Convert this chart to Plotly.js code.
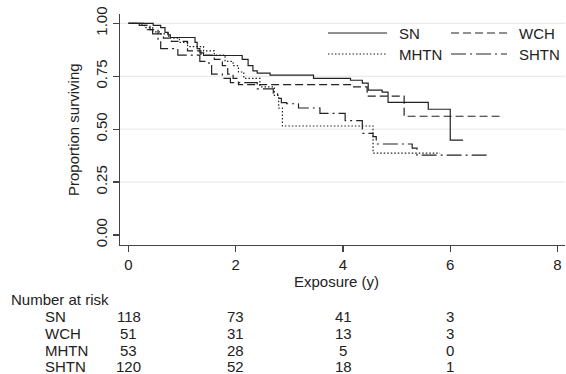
<!DOCTYPE html>
<html>
<head>
<meta charset="utf-8">
<script src="https://cdn.plot.ly/plotly-3.0.1.min.js"></script>
<style>html,body{margin:0;padding:0;background:#fff}#chart{width:566px;height:374px}</style>
</head>
<body>
<div id="chart"></div>
<script>
// Kaplan-Meier step data (time in years, survival proportion after the step)
var snTime  = [0, 0.46, 0.60, 0.68, 0.74, 0.78, 1.24, 1.28, 1.33, 1.40, 1.46, 2.12, 2.23, 2.32, 2.40, 2.64, 3.45, 4.14, 4.36, 4.47, 4.73, 4.84, 5.59, 6.00, 6.24];
var snSurv  = [1, 0.99, 0.98, 0.957, 0.945, 0.933, 0.91, 0.88, 0.86, 0.848, 0.848, 0.83, 0.80, 0.775, 0.765, 0.755, 0.74, 0.731, 0.717, 0.684, 0.675, 0.627, 0.594, 0.448, 0.448];

var wchTime = [0, 0.25, 0.40, 0.55, 0.65, 0.80, 1.10, 1.35, 1.60, 1.75, 1.85, 1.95, 2.05, 4.14, 4.45, 5.14, 6.97];
var wchSurv = [1, 0.99, 0.97, 0.95, 0.93, 0.915, 0.87, 0.85, 0.83, 0.80, 0.76, 0.74, 0.71, 0.70, 0.656, 0.561, 0.561];

var mhtnTime = [0, 0.30, 0.45, 0.60, 0.75, 0.95, 1.10, 1.40, 1.60, 1.80, 1.95, 2.05, 2.15, 2.45, 2.72, 2.80, 2.87, 4.56, 5.81];
var mhtnSurv = [1, 0.98, 0.96, 0.95, 0.93, 0.91, 0.89, 0.87, 0.85, 0.82, 0.80, 0.77, 0.74, 0.70, 0.66, 0.60, 0.515, 0.387, 0.387];

var shtnTime = [0, 0.20, 0.35, 0.45, 0.55, 0.60, 0.92, 1.33, 1.50, 1.55, 1.75, 1.90, 2.40, 2.70, 2.78, 2.85, 2.95, 3.17, 3.57, 4.04, 4.36, 4.56, 4.62, 5.29, 5.38, 6.74];
var shtnSurv = [1, 0.99, 0.97, 0.95, 0.92, 0.88, 0.85, 0.82, 0.80, 0.76, 0.74, 0.72, 0.69, 0.67, 0.645, 0.625, 0.62, 0.60, 0.575, 0.54, 0.48, 0.465, 0.43, 0.41, 0.377, 0.377];

var groupNames = ['SN', 'WCH', 'MHTN', 'SHTN'];
var xTicks = [0, 2, 4, 6, 8];
var yTicks = [0, 0.25, 0.5, 0.75, 1];
var yTickText = ['0.00', '0.25', '0.50', '0.75', '1.00'];
var gridVals = [0.25, 0.5, 0.75, 1];

var riskTimes = [0, 2, 4, 6];
var riskSN   = [118, 73, 41, 3];
var riskWCH  = [51, 31, 13, 3];
var riskMHTN = [53, 28, 5, 0];
var riskSHTN = [120, 52, 18, 1];

var FONT = 'Liberation Sans, Arial, sans-serif';
var INK = '#222';
var dashes = ['solid', '8px,4px', '1.5px,2px', '15px,4px,2px,4px'];

var series = [
  {t: snTime, s: snSurv},
  {t: wchTime, s: wchSurv},
  {t: mhtnTime, s: mhtnSurv},
  {t: shtnTime, s: shtnSurv}
];

var traces = series.map(function (d, i) {
  return {
    x: d.t, y: d.s, name: groupNames[i], type: 'scatter', mode: 'lines',
    line: {shape: 'hv', color: INK, width: 1.2, dash: dashes[i]},
    hoverinfo: 'skip', showlegend: false
  };
});

// plot area pixel geometry
var L = 120, T = 14, W = 445, H = 231;
function py2paper(py) { return (T + H - py) / H; }
function px2paper(px) { return (px - L) / W; }

var shapes = gridVals.map(function (v) {
  return {type: 'line', xref: 'paper', yref: 'y', x0: 0, x1: 1, y0: v, y1: v,
          line: {color: '#e6e6e6', width: 1}, layer: 'below'};
});

var annotations = [];

// legend (2 x 2 grid)
var legCols = [[328, 387, 397], [451, 507, 517]];
var legRows = [33, 54];
groupNames.forEach(function (name, i) {
  var c = legCols[i % 2], r = legRows[Math.floor(i / 2)];
  shapes.push({type: 'line', xref: 'paper', yref: 'paper',
    x0: px2paper(c[0]), x1: px2paper(c[1]), y0: py2paper(r), y1: py2paper(r),
    line: {color: INK, width: 1.2, dash: dashes[i]}});
  annotations.push({xref: 'paper', yref: 'paper', x: px2paper(c[2]), y: py2paper(r),
    text: name, showarrow: false, xanchor: 'left', yanchor: 'middle',
    font: {family: FONT, size: 15, color: INK}});
});

annotations.push({xref: 'paper', yref: 'paper', x: px2paper(336), y: py2paper(281),
  text: 'Exposure (y)', showarrow: false, xanchor: 'center', yanchor: 'middle',
  font: {family: FONT, size: 15, color: INK}});
annotations.push({xref: 'paper', yref: 'paper', x: px2paper(73), y: py2paper(130),
  text: 'Proportion surviving', showarrow: false, textangle: -90, xanchor: 'center', yanchor: 'middle',
  font: {family: FONT, size: 15, color: INK}});
annotations.push({xref: 'paper', yref: 'paper', x: px2paper(9), y: py2paper(299),
  text: 'Number at risk', showarrow: false, xanchor: 'left', yanchor: 'middle',
  font: {family: FONT, size: 15, color: INK}});

var riskRows = [riskSN, riskWCH, riskMHTN, riskSHTN];
var rowPy = [316.5, 333.3, 350, 366.7];
riskRows.forEach(function (row, r) {
  annotations.push({xref: 'paper', yref: 'paper', x: px2paper(43), y: py2paper(rowPy[r]),
    text: groupNames[r], showarrow: false, xanchor: 'left', yanchor: 'middle',
    font: {family: FONT, size: 15, color: INK}});
  row.forEach(function (n, k) {
    annotations.push({xref: 'x', yref: 'paper', x: riskTimes[k], y: py2paper(rowPy[r]),
      text: String(n), showarrow: false, xanchor: 'center', yanchor: 'middle',
      font: {family: FONT, size: 15, color: INK}});
  });
});

var layout = {
  width: 566, height: 374,
  margin: {l: L, r: 566 - L - W, t: T, b: 374 - T - H, pad: 0},
  paper_bgcolor: '#fff', plot_bgcolor: '#fff',
  font: {family: FONT, size: 15, color: INK},
  showlegend: false,
  xaxis: {
    range: [-0.159, 8.14], tickvals: xTicks, ticktext: xTicks.map(String),
    showgrid: false, zeroline: false, showline: true, linecolor: '#444', linewidth: 1.2,
    ticks: 'outside', ticklen: 6, tickcolor: '#444', tickwidth: 1.2,
    tickfont: {family: FONT, size: 15, color: INK}, fixedrange: true
  },
  yaxis: {
    range: [-0.0472, 1.044], tickvals: yTicks, ticktext: yTickText, tickangle: -90,
    showgrid: false, zeroline: false, showline: true, linecolor: '#444', linewidth: 1.2,
    ticks: 'outside', ticklen: 6, tickcolor: '#444', tickwidth: 1.2,
    tickfont: {family: FONT, size: 15, color: INK}, fixedrange: true
  },
  shapes: shapes,
  annotations: annotations
};

Plotly.newPlot('chart', traces, layout, {displayModeBar: false, staticPlot: true});
</script>
</body>
</html>
